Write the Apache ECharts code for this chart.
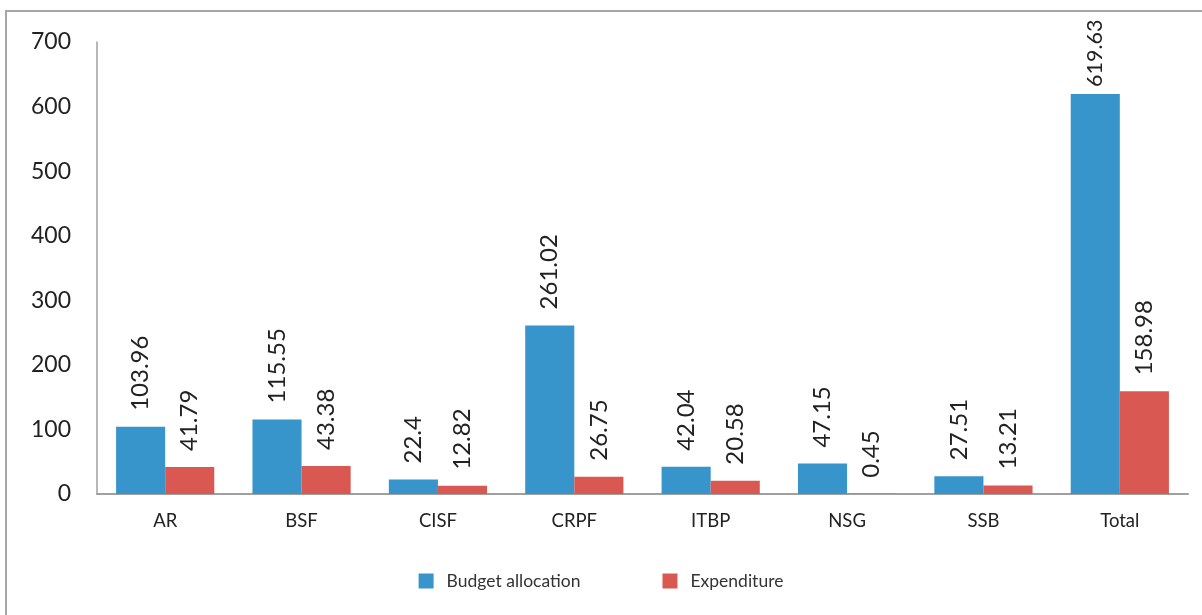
<!DOCTYPE html>
<html><head><meta charset="utf-8">
<script src="https://cdn.jsdelivr.net/npm/echarts@6/dist/echarts.min.js"></script>
<style>html,body{margin:0;padding:0;background:#fff}#c{width:1202px;height:615px}</style>
</head><body><div id="c"></div>
<script>
const categories = ['AR','BSF','CISF','CRPF','ITBP','NSG','SSB','Total'];
const budget = [103.96,115.55,22.4,261.02,42.04,47.15,27.51,619.63];
const expenditure = [41.79,43.38,12.82,26.75,20.58,0.45,13.21,158.98];
const yTicks = [0,100,200,300,400,500,600,700];
const font = 'Lato, "Open Sans", sans-serif';
const chart = echarts.init(document.getElementById('c'));
const lbl = {show:true, position:'top', rotate:90, align:'left', verticalAlign:'middle', distance:16, color:'#222', fontSize:24, fontFamily:font};
const smallLbl = {fontSize:21.5, distance:7};
const budgetData = budget.map((v,i) => i === budget.length-1 ? {value:v, label:smallLbl} : v);
chart.setOption({
  animation:false,
  graphic:[{type:'rect', shape:{x:6,y:11,width:1220,height:640}, style:{fill:'none', stroke:'#a6a6a6', lineWidth:2}, silent:true}],
  grid:{left:97, right:14, top:42, bottom:121},
  legend:{bottom:20, left:'center', itemWidth:15, itemHeight:15, itemGap:82,
    textStyle:{fontSize:17.5, fontFamily:font, color:'#333', padding:[0,0,0,8]},
    data:[{name:'Budget allocation', icon:'rect'},{name:'Expenditure', icon:'rect'}]},
  xAxis:{type:'category', data:categories,
    axisLine:{lineStyle:{color:'#a0a0a0', width:2}}, axisTick:{show:false},
    axisLabel:{fontSize:18.5, fontFamily:font, color:'#222', margin:18}},
  yAxis:{type:'value', min:yTicks[0], max:yTicks[yTicks.length-1], interval:100,
    splitLine:{show:false},
    axisLine:{show:true, lineStyle:{color:'#a0a0a0', width:1.5}}, axisTick:{show:false},
    axisLabel:{fontSize:23, fontFamily:font, color:'#222', margin:26}},
  series:[
    {name:'Budget allocation', type:'bar', data:budgetData, barWidth:'36%', barGap:'0%',
      itemStyle:{color:'#3795cb'}, label:lbl},
    {name:'Expenditure', type:'bar', data:expenditure, barWidth:'36%',
      itemStyle:{color:'#d95852'}, label:lbl}
  ]
});
</script></body></html>
